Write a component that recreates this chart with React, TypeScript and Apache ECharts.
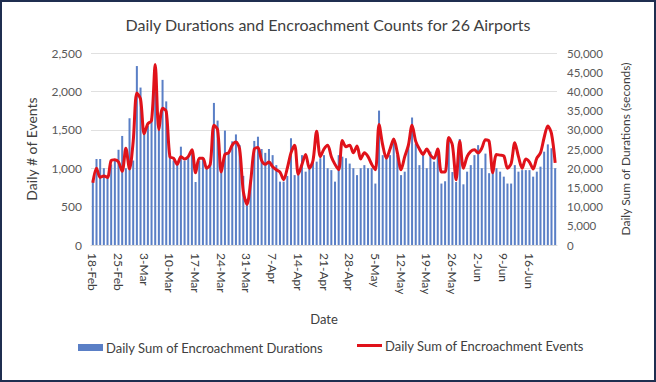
import React, { useEffect, useRef } from "react";
import * as echarts from "echarts";

const START_DAY = 18; // 18-Feb
const MONTHS = ["Feb", "Mar", "Apr", "May", "Jun"];
const MONTH_LENGTHS = [29, 31, 30, 31, 30];
const DAY_COUNT = 127; // 18-Feb .. 23-Jun
const LAST_LABEL_INDEX = 119; // 16-Jun

function buildDates(): string[] {
  const out: string[] = [];
  let m = 0;
  let d = START_DAY;
  for (let i = 0; i < DAY_COUNT; i++) {
    out.push(`${d}-${MONTHS[m]}`);
    d++;
    if (d > MONTH_LENGTHS[m]) {
      d = 1;
      m++;
    }
  }
  return out;
}
const dates = buildDates();

// Daily sum of encroachment durations (seconds)
const durations = [
  17000, 22400, 22400, 20000, 18000, 21000, 22000, 24800, 28400, 20000,
  33000, 22000, 46600, 41000, 30000, 31000, 33000, 45000, 30000, 43000,
  37400, 23000, 22000, 21000, 25600, 22000, 23000, 24000, 16400, 22000,
  22400, 20000, 21000, 37000, 32400, 20000, 29800, 24000, 27000, 28800,
  26000, 18000, 12000, 17000, 27100, 28200, 25000, 24000, 25000, 23400,
  20800, 16500, 16500, 18000, 27800, 18200, 18200, 23400, 19100, 20000,
  22600, 21700, 22600, 23400, 20000, 19500, 16500, 23400, 23000, 22600,
  21200, 20000, 18200, 20000, 20800, 20000, 20000, 16000, 35000, 23400,
  22600, 23400, 27800, 23400, 18200, 19100, 26000, 33200, 26400, 20800,
  24300, 20000, 24300, 21700, 25200, 16000, 16600, 28000, 19000, 16400,
  27600, 15800, 19100, 20800, 23400, 26000, 20000, 23800, 18700, 19100,
  20000, 19100, 17800, 16000, 16000, 20800, 19100, 19500, 19500, 19500,
  17800, 19100, 20400, 24300, 26200, 25200, 20000,
];

// Daily sum of encroachment events (count)
const events = [
  810, 1000, 880, 900, 880, 1100, 1110, 1080, 960, 1260,
  990, 1350, 1980, 1900, 1450, 1580, 1620, 2350, 1500, 1780,
  1740, 1150, 1130, 1050, 1150, 1120, 1150, 1240, 940, 1130,
  1130, 1000, 1050, 1560, 1500, 950, 1180, 1200, 1300, 1340,
  1250, 700, 530, 820, 1250, 1270, 1100, 1050, 1080, 1020,
  980, 950, 850, 1000, 1200, 1300, 920, 1050, 1180, 1000,
  1100, 1480, 1150, 1250, 1300, 1150, 1050, 980, 1360, 1280,
  1300, 1200, 1290, 1120, 1200, 1150, 1050, 980, 1570, 1300,
  1130, 1250, 1380, 1200, 980, 1150, 1300, 1560, 1350, 1250,
  1180, 1250, 1170, 1130, 1250, 950, 950, 1400, 1300, 850,
  1350, 1000, 1150, 1220, 1240, 1200, 1260, 1370, 1350, 940,
  1180, 1170, 1160, 1000, 1060, 1330, 1150, 1000, 1120, 1080,
  990, 1130, 1200, 1400, 1550, 1450, 1070,
];

const BAR_NAME = "Daily Sum of Encroachment Durations";
const LINE_NAME = "Daily Sum of Encroachment Events";

const FONT = "Lato, 'Open Sans', sans-serif";
const TEXT = "#404040";
const LINE_RED = "#e0121a";
const BAR_BLUE = "#5a7fc6";

export default function App() {
  const ref = useRef<HTMLDivElement>(null);
  useEffect(() => {
    document.body.style.margin = "0";
    if (!ref.current) return;
    const chart = echarts.init(ref.current, undefined, { renderer: "svg" });
    const fmt = (v: number) => v.toLocaleString("en-US");
    const legendText = { fontFamily: FONT, fontSize: 13, color: TEXT, padding: [0, 0, 0, -2] };
    chart.setOption({
      animation: false,
      backgroundColor: "#ffffff",
      textStyle: { fontFamily: FONT },
      title: {
        text: "Daily Durations and Encroachment Counts for 26 Airports",
        left: "center",
        top: 9,
        textStyle: { fontFamily: FONT, fontSize: 16, fontWeight: "normal", color: TEXT },
      },
      grid: { left: 89, right: 97, top: 51, bottom: 135 },
      legend: [
        {
          bottom: 21,
          left: 71,
          itemWidth: 25,
          itemHeight: 7,
          icon: "rect",
          textStyle: legendText,
          data: [BAR_NAME],
        },
        {
          bottom: 23,
          left: 350,
          itemWidth: 25,
          itemHeight: 3,
          icon: "rect",
          textStyle: legendText,
          data: [LINE_NAME],
        },
      ],
      xAxis: {
        type: "category",
        data: dates,
        name: "Date",
        nameLocation: "middle",
        nameGap: 67,
        nameTextStyle: { fontFamily: FONT, fontSize: 13, color: TEXT },
        axisLine: { lineStyle: { color: "#d9d9d9" } },
        axisTick: { show: false },
        axisLabel: {
          interval: (i: number) => i % 7 === 0 && i <= LAST_LABEL_INDEX,
          rotate: -90,
          margin: 8,
          fontFamily: FONT,
          fontSize: 12,
          color: TEXT,
        },
      },
      yAxis: [
        {
          type: "value",
          min: 0,
          max: 2500,
          interval: 500,
          name: "Daily # of Events",
          nameLocation: "middle",
          nameRotate: 90,
          nameGap: 53,
          nameTextStyle: { fontFamily: FONT, fontSize: 14, color: TEXT },
          axisLabel: { formatter: fmt, fontFamily: FONT, fontSize: 12, color: "#595959", margin: 9 },
          axisLine: { show: false },
          axisTick: { show: false },
          splitLine: { lineStyle: { color: "#e0e0e0", width: 1 } },
        },
        {
          type: "value",
          min: 0,
          max: 50000,
          interval: 5000,
          name: "Daily Sum of Durations (seconds)",
          nameLocation: "middle",
          nameRotate: 90,
          nameGap: 62,
          nameTextStyle: { fontFamily: FONT, fontSize: 12, color: TEXT },
          axisLabel: { formatter: fmt, fontFamily: FONT, fontSize: 11.5, color: "#595959", margin: 10 },
          axisLine: { show: false },
          axisTick: { show: false },
          splitLine: { show: false },
        },
      ],
      series: [
        {
          name: BAR_NAME,
          type: "bar",
          yAxisIndex: 1,
          data: durations,
          barWidth: "55%",
          itemStyle: { color: BAR_BLUE },
        },
        {
          name: LINE_NAME,
          type: "line",
          yAxisIndex: 0,
          data: events,
          smooth: 0.3,
          showSymbol: false,
          symbol: "none",
          lineStyle: { color: LINE_RED, width: 3 },
          itemStyle: { color: LINE_RED },
        },
      ],
    });
    return () => chart.dispose();
  }, []);
  return (
    <div
      style={{
        width: 656,
        height: 382,
        boxSizing: "border-box",
        border: "2px solid #1f2e50",
        background: "#fff",
      }}
    >
      <div ref={ref} style={{ width: 652, height: 378 }} />
    </div>
  );
}
